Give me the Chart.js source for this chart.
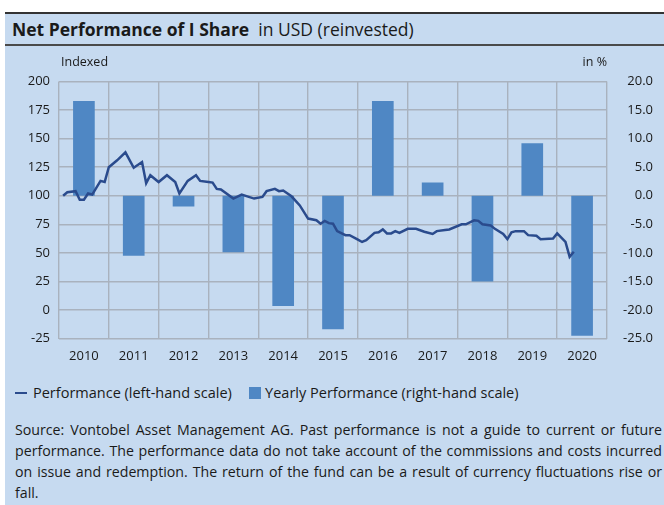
<!DOCTYPE html>
<html>
<head>
<meta charset="utf-8">
<script src="https://cdn.jsdelivr.net/npm/chart.js@4"></script>
<style>
  html, body { margin: 0; padding: 0; background: #fff; }
  body { width: 664px; height: 505px; position: relative; overflow: hidden; font-family: "Open Sans", sans-serif; color: #1a1a1a; }
  #panel { position: absolute; left: 5px; top: 12px; width: 659px; height: 493px; background: #c6daf0; }
  #titleBar { position: absolute; left: 0; top: 0; width: 659px; height: 30px; border-top: 2px solid #333; border-bottom: 2px solid #4a4a4a; }
  #titleBar span.t { position: absolute; left: 7px; top: 4px; font-size: 17.5px; line-height: 22px; white-space: nowrap; }
  #chartBox { position: absolute; left: 0; top: 34px; width: 659px; height: 326px; }
  #legend { position: absolute; left: 10px; top: 371px; font-size: 14.5px; line-height: 20px; white-space: nowrap; }
  #legend .sw-line { display: inline-block; width: 12px; height: 2.5px; background: #2a4b8d; vertical-align: middle; margin-right: 6px; position: relative; top: -1px; }
  #legend .sw-bar { display: inline-block; width: 12px; height: 12px; background: #4f87c4; vertical-align: middle; margin-left: 6px; margin-right: 4px; position: relative; top: -1px; }
  #footer { position: absolute; left: 10px; top: 407px; width: 647px; font-size: 14.2px; line-height: 21px; }
  #footer div { white-space: nowrap; text-align: justify; text-align-last: justify; }
  #footer div.last { text-align-last: left; }
</style>
</head>
<body>
<div id="panel">
  <div id="titleBar"><span class="t"><b>Net Performance of I Share</b>&nbsp; in USD (reinvested)</span></div>
  <div id="chartBox"><canvas id="perfChart"></canvas></div>
  <div id="legend"><span class="sw-line"></span>Performance (left-hand scale) &nbsp; <span class="sw-bar"></span>Yearly Performance (right-hand scale)</div>
  <div id="footer">
    <div>Source: Vontobel Asset Management AG. Past performance is not a guide to current or future</div>
    <div>performance. The performance data do not take account of the commissions and costs incurred</div>
    <div>on issue and redemption. The return of the fund can be a result of currency fluctuations rise or</div>
    <div class="last">fall.</div>
  </div>
</div>
<script>
// yearly bars (right-hand scale, in %)
const years = ['2010','2011','2012','2013','2014','2015','2016','2017','2018','2019','2020'];
const yearlyPerf = [16.6, -10.5, -1.9, -9.9, -19.3, -23.4, 16.6, 2.3, -15.0, 9.2, -24.5];

// indexed performance (left-hand scale), month
const perfMonths = [
  '2010-02','2010-03','2010-05','2010-06','2010-07','2010-08','2010-09','2010-11','2010-12',
  '2011-01','2011-03','2011-05','2011-07','2011-09','2011-10','2011-11',
  '2012-01','2012-03','2012-05','2012-06','2012-08','2012-10','2012-11',
  '2013-01','2013-02','2013-03','2013-04','2013-07','2013-09','2013-12',
  '2014-02','2014-03','2014-05','2014-06','2014-07','2014-09','2014-11',
  '2015-01','2015-03','2015-04','2015-05','2015-06','2015-07','2015-08','2015-10','2015-11',
  '2016-01','2016-02','2016-03','2016-05','2016-06','2016-07','2016-08','2016-09','2016-10','2016-11',
  '2017-01','2017-03','2017-05','2017-07','2017-08','2017-10','2017-11',
  '2018-02','2018-03','2018-05','2018-06','2018-07','2018-09','2018-10','2018-12',
  '2019-01','2019-02','2019-03','2019-05','2019-06','2019-08','2019-09','2019-12',
  '2020-01','2020-03','2020-04','2020-05'
];
const perfValues = [
  100, 103, 104, 96.5, 96.5, 102, 101, 113, 112,
  125, 131, 138, 124.5, 129.5, 111, 118,
  112, 118, 112, 102, 113, 118, 113,
  112, 111.5, 106, 105.5, 97.5, 101, 97.5,
  99, 104, 106, 104, 104.5, 99.5, 91.5,
  80, 78.5, 75.5, 78, 76, 75.5, 69, 65.5, 65.5,
  61.5, 59.5, 61, 67.5, 68, 70.5, 67, 67, 69, 67.5,
  71, 71, 68.5, 66.5, 69, 70, 70.5,
  75, 75, 78.5, 78, 75, 74, 71, 66.5,
  62, 68, 69, 69, 65.5, 65, 62, 62.5,
  67, 59.5, 46.5, 51
];

const leftTicks = [-25, 200, 25];
const rightTicks = [-25, 20, 5];

// month string -> position in years from start of 2010
function monthPos(s) {
  const [y, m] = s.split('-').map(Number);
  return (y - 2010) + (m - 1) / 12;
}
const linePoints = perfMonths.map((m, i) => ({ x: monthPos(m), y: perfValues[i] }));

Chart.defaults.font.family = '"Open Sans", sans-serif';
Chart.defaults.font.size = 13;
Chart.defaults.color = '#1a1a1a';

const gridColor = '#a9b2be';

const axisNotes = {
  id: 'axisNotes',
  afterDraw(chart) {
    const { ctx, chartArea } = chart;
    ctx.save();
    ctx.font = '12.5px "Open Sans", sans-serif';
    ctx.fillStyle = '#1a1a1a';
    ctx.textBaseline = 'middle';
    ctx.textAlign = 'left';
    ctx.fillText('Indexed', chartArea.left + 2, chartArea.top - 19);
    ctx.textAlign = 'right';
    ctx.fillText('in %', chartArea.right, chartArea.top - 19);
    ctx.restore();
  }
};

new Chart(document.getElementById('perfChart'), {
  data: {
    labels: years,
    datasets: [
      {
        type: 'line',
        label: 'Performance (left-hand scale)',
        data: linePoints,
        xAxisID: 'x2',
        yAxisID: 'y',
        borderColor: '#2a4b8d',
        borderWidth: 2.5,
        pointRadius: 0,
        tension: 0,
        order: 0
      },
      {
        type: 'bar',
        label: 'Yearly Performance (right-hand scale)',
        data: yearlyPerf,
        xAxisID: 'x',
        yAxisID: 'y1',
        backgroundColor: '#4f87c4',
        grouped: false,
        barPercentage: 0.435,
        categoryPercentage: 1,
        order: 1
      }
    ]
  },
  options: {
    responsive: true,
    maintainAspectRatio: false,
    animation: false,
    layout: { padding: { top: 35.5, right: 11, bottom: 0, left: 0 } },
    plugins: { legend: { display: false }, tooltip: { enabled: false } },
    scales: {
      x: {
        type: 'category',
        offset: true,
        grid: { offset: true, color: gridColor, lineWidth: 1.4, drawTicks: false },
        border: { display: false },
        ticks: { padding: 10, maxRotation: 0 },
        afterFit(scale) { scale.height = 33.5; }
      },
      x2: {
        type: 'linear',
        display: false,
        min: 0,
        max: 11
      },
      y: {
        position: 'left',
        min: leftTicks[0],
        max: leftTicks[1],
        ticks: { stepSize: leftTicks[2], padding: 9 },
        grid: { color: gridColor, lineWidth: 1.4, drawTicks: false },
        border: { display: false },
        afterFit(scale) { scale.width = 54; }
      },
      y1: {
        position: 'right',
        min: rightTicks[0],
        max: rightTicks[1],
        ticks: { stepSize: rightTicks[2], padding: 13, crossAlign: 'far', callback: v => v.toFixed(1) },
        grid: { display: false, drawTicks: false },
        border: { display: false },
        afterFit(scale) { scale.width = 46; }
      }
    }
  },
  plugins: [axisNotes]
});
</script>
</body>
</html>
